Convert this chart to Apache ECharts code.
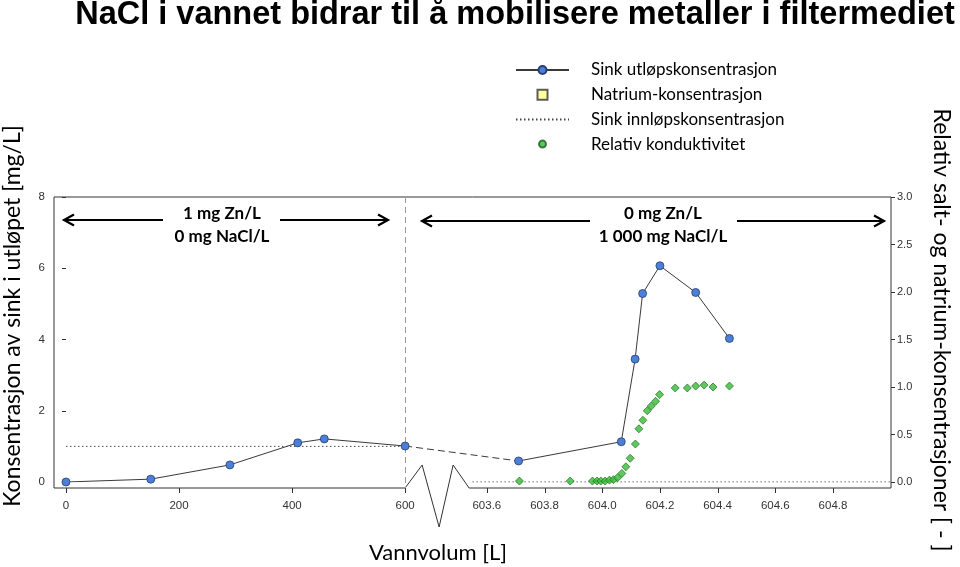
<!DOCTYPE html>
<html>
<head>
<meta charset="utf-8">
<script src="https://cdn.jsdelivr.net/npm/echarts@6/dist/echarts.min.js"></script>
<style>
html, body { margin: 0; padding: 0; background: #fff; }
#chart { width: 960px; height: 567px; }
</style>
</head>
<body>
<div id="chart"></div>
<script>
// sink i utløpet, før og etter bruddet i x-aksen
var zincOutLeftX = [0, 150, 290, 410, 457, 600];
var zincOutLeftY = [0, 0.08, 0.48, 1.1, 1.21, 1.01];
var zincOutRightX = [603.71, 604.066, 604.114, 604.14, 604.2, 604.324, 604.441];
var zincOutRightY = [0.59, 1.13, 3.45, 5.29, 6.07, 5.32, 4.03];

// relativ konduktivitet (høyre akse)
var conductX = [603.713, 603.889, 603.966, 603.982, 603.995, 604.01, 604.025, 604.039, 604.053, 604.068,
  604.082, 604.097, 604.115, 604.127, 604.141, 604.156, 604.17, 604.185, 604.199, 604.253,
  604.295, 604.324, 604.353, 604.384, 604.441];
var conductY = [0.01, 0.01, 0.01, 0.01, 0.01, 0.01, 0.02, 0.025, 0.045, 0.09,
  0.16, 0.25, 0.40, 0.56, 0.65, 0.75, 0.80, 0.85, 0.92, 0.99,
  0.99, 1.01, 1.02, 1.00, 1.01];

// sink innløp
var zincInLeftX = [0, 600];
var zincInLeftY = [1, 1];
var zincInRightX = [603.55, 605.0];
var zincInRightY = [0, 0];

// natrium (ingen punkter synlige)
var sodiumX = [];
var sodiumY = [];

var leftTicks = [0, 200, 400, 600];
var rightTicks = [603.6, 603.8, 604.0, 604.2, 604.4, 604.6, 604.8];

// brudd i x-aksen: 0-600 lineært, 603.6- strukket ut
var BREAK_AT = 600, RIGHT_FROM = 603.6, RIGHT_OFFSET = 744.6, RIGHT_SCALE = 510.3;
function tx(x) {
  return x <= BREAK_AT ? x : RIGHT_OFFSET + (x - RIGHT_FROM) * RIGHT_SCALE;
}
function pairs(xs, ys) {
  return xs.map(function (x, i) { return [tx(x), ys[i]]; });
}

var allTicks = leftTicks.concat(rightTicks);
var tickPos = allTicks.map(tx);
function tickLabel(v) {
  var best = 0;
  for (var i = 1; i < tickPos.length; i++) {
    if (Math.abs(tickPos[i] - v) < Math.abs(tickPos[best] - v)) best = i;
  }
  var t = allTicks[best];
  return t > BREAK_AT ? t.toFixed(1) : String(t);
}

var myChart = echarts.init(document.getElementById('chart'));

var lineColor = '#3a3a3a';
var axisColor = '#333';
var blueDot = { color: '#4d7fd6', borderColor: '#253f73', borderWidth: 0.8 };

// ikon-stier med usynlige hjørnepunkter så symbolet blir liggende midt i 53x10-feltet
var squareIcon = 'path://M0,0ZM53,10ZM21.5,0H31.5V10H21.5Z';
var dotIcon = 'path://M0,0ZM53,10ZM30,5A3.5,3.5,0,1,1,23,5A3.5,3.5,0,1,1,30,5Z';

var option = {
  animation: false,
  backgroundColor: '#fff',
  grid: { left: 54, right: 69, top: 197, bottom: 85 },
  legend: {
    orient: 'vertical',
    left: 510,
    top: 55,
    itemWidth: 53,
    itemHeight: 10,
    itemGap: 4.7,
    selectedMode: false,
    textStyle: { fontFamily: 'Lato', fontSize: 17, color: '#000', lineHeight: 20, padding: [0, 0, 0, 17] },
    data: [
      { name: 'Sink utløpskonsentrasjon' },
      { name: 'Natrium-konsentrasjon', icon: squareIcon },
      { name: 'Sink innløpskonsentrasjon', itemStyle: { opacity: 0 } },
      { name: 'Relativ konduktivitet', icon: dotIcon }
    ]
  },
  xAxis: {
    type: 'value',
    min: -21.2,
    max: 1459.6,
    axisLine: { show: false },
    splitLine: { show: false },
    axisTick: { show: false },
    axisLabel: {
      customValues: tickPos,
      formatter: tickLabel,
      margin: 18,
      fontFamily: 'Liberation Sans',
      fontSize: 11.5,
      color: axisColor
    }
  },
  yAxis: [
    {
      type: 'value',
      min: 0,
      max: 8,
      interval: 2,
      axisLine: { show: false },
      splitLine: { show: false },
      axisTick: { show: true, length: 4, lineStyle: { color: axisColor } },
      axisLabel: { margin: 9, fontFamily: 'Liberation Sans', fontSize: 11.5, color: axisColor }
    },
    {
      type: 'value',
      position: 'right',
      min: 0,
      max: 3,
      interval: 0.5,
      axisLine: { show: false },
      splitLine: { show: false },
      axisTick: { show: true, length: 4, lineStyle: { color: axisColor } },
      axisLabel: {
        formatter: function (v) { return v.toFixed(1); },
        margin: 6,
        fontFamily: 'Liberation Sans',
        fontSize: 11,
        color: axisColor
      }
    }
  ],
  series: [
    {
      name: 'Sink utløpskonsentrasjon',
      type: 'line',
      data: pairs(zincOutLeftX, zincOutLeftY),
      symbol: 'circle',
      symbolSize: 8,
      lineStyle: { color: lineColor, width: 1 },
      itemStyle: blueDot,
      z: 5
    },
    {
      name: 'Sink utløpskonsentrasjon',
      type: 'line',
      data: [pairs(zincOutLeftX, zincOutLeftY)[zincOutLeftX.length - 1], pairs(zincOutRightX, zincOutRightY)[0]],
      symbol: 'none',
      lineStyle: { color: lineColor, width: 1, type: [7, 4] },
      z: 4
    },
    {
      name: 'Sink utløpskonsentrasjon',
      type: 'line',
      data: pairs(zincOutRightX, zincOutRightY),
      symbol: 'circle',
      symbolSize: 8,
      lineStyle: { color: lineColor, width: 1 },
      itemStyle: blueDot,
      z: 5
    },
    {
      name: 'Natrium-konsentrasjon',
      type: 'scatter',
      data: pairs(sodiumX, sodiumY),
      symbol: 'rect',
      itemStyle: { color: '#ffff8a', borderColor: '#333', borderWidth: 1 }
    },
    {
      name: 'Sink innløpskonsentrasjon',
      type: 'line',
      data: pairs(zincInLeftX, zincInLeftY),
      symbol: 'none',
      itemStyle: { color: '#444' },
      lineStyle: { color: '#444', width: 1, type: [1.5, 2.5] },
      z: 2
    },
    {
      name: 'Sink innløpskonsentrasjon',
      type: 'line',
      data: pairs(zincInRightX, zincInRightY),
      symbol: 'none',
      itemStyle: { color: '#444' },
      lineStyle: { color: '#444', width: 1, type: [1.5, 2.5] },
      z: 2
    },
    {
      name: 'Relativ konduktivitet',
      type: 'scatter',
      yAxisIndex: 1,
      data: pairs(conductX, conductY),
      symbol: 'diamond',
      symbolSize: 8,
      itemStyle: { color: '#33bb33', borderColor: '#1d5e1d', borderWidth: 0.8 },
      z: 6
    }
  ]
};

myChart.setOption(option);

// ramme, akselinje nederst med bruddmerke, x-tikker, piler og tekster
function px(x, y) {
  return myChart.convertToPixel({ xAxisIndex: 0, yAxisIndex: 0 }, [tx(x), y]);
}
var gLeft = 54, gRight = 960 - 69, gTop = 197, gBottom = 488;
var bx = px(BREAK_AT, 0)[0];
var thin = { stroke: axisColor, lineWidth: 1, fill: null };
var frame = [[gLeft, gTop], [gLeft, gBottom], [bx, gBottom], [bx + 17, gBottom - 23], [bx + 34, gBottom + 39],
  [bx + 48, gBottom - 23], [bx + 64, gBottom], [gRight, gBottom], [gRight, gTop], [gLeft, gTop]];

var tickMarks = allTicks.map(function (t) {
  var x = Math.round(px(t, 0)[0]) + 0.5;
  return { type: 'line', shape: { x1: x, y1: gBottom, x2: x, y2: gBottom + 5 }, style: thin };
});

var arrowStyle = { stroke: '#000', lineWidth: 2.2, fill: null };
function arrow(x1, x2, y, dir) {
  // dir: -1 = spiss mot venstre ved x1, 1 = spiss mot høyre ved x2
  var tip = dir < 0 ? x1 : x2;
  var back = tip - dir * 10;
  return [
    { type: 'line', shape: { x1: x1, y1: y, x2: x2, y2: y }, style: arrowStyle },
    { type: 'polyline', shape: { points: [[back, y - 5.5], [tip, y], [back, y + 5.5]] }, style: arrowStyle }
  ];
}

var boldFont = 'bold 17px Lato';
function label(text, x, y, font, rotation) {
  return { type: 'text', x: x, y: y, rotation: rotation || 0,
    style: { text: text, font: font, fill: '#000', align: 'center', verticalAlign: 'middle' } };
}

var breakX = Math.round(bx) + 0.5;
var graphics = [
  { type: 'line', shape: { x1: breakX, y1: gTop, x2: breakX, y2: gBottom },
    style: { stroke: '#9a9a9a', lineWidth: 1, lineDash: [6, 4] }, z: 1 },
  { type: 'polyline', shape: { points: frame }, style: thin },
  label('1 mg Zn/L', 222, 214, boldFont),
  label('0 mg NaCl/L', 222, 237, boldFont),
  label('0 mg Zn/L', 663, 214, boldFont),
  label('1 000 mg NaCl/L', 663, 237, boldFont),
  label('NaCl i vannet bidrar til å mobilisere metaller i filtermediet', 515, 15,
    'bold 32.5px "Liberation Sans Narrow", "Liberation Sans", Arial'),
  label('Vannvolum [L]', 438, 553, '22px Lato'),
  label('Konsentrasjon av sink i utløpet [mg/L]', 13, 316, '23px Lato', Math.PI / 2),
  label('Relativ salt- og natrium-konsentrasjoner [ - ]', 941, 330, '23px Lato', -Math.PI / 2)
]
  .concat(tickMarks)
  .concat(arrow(64, 163, 220, -1))
  .concat(arrow(280, 388, 220, 1))
  .concat(arrow(422, 590, 221, -1))
  .concat(arrow(737, 884, 221, 1));

myChart.setOption({ graphic: graphics });
</script>
</body>
</html>
